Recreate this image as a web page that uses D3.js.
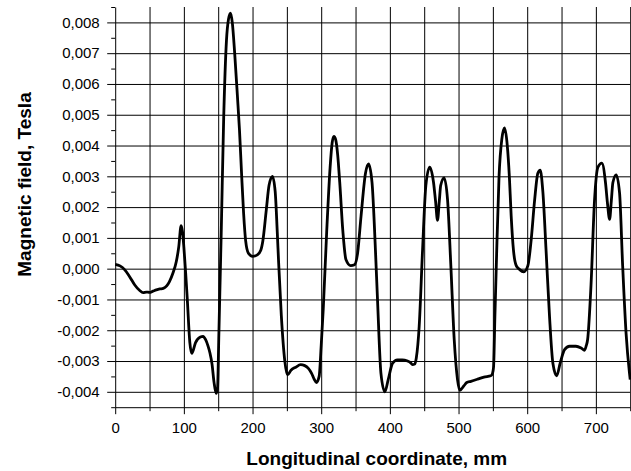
<!DOCTYPE html>
<html>
<head>
<meta charset="utf-8">
<script src="https://cdn.jsdelivr.net/npm/d3@7"></script>
<style>
  body { margin: 0; background: #fff; }
  svg { display: block; font-family: Arial, "Liberation Sans", sans-serif; }
</style>
</head>
<body>
<div id="field_chart"></div>
<script>
/* Magnetic field along the sample */

// longitudinal coordinate, mm
const positions = [
  0, 7, 14, 21, 28.5, 35.7, 40.6, 45.4, 50, 55, 60, 65, 70, 75, 79, 84, 89, 92.5, 96, 98, 100,
  102.5, 105, 108.7, 111.5, 117, 124, 128, 131.5, 135, 138, 141, 144, 147, 149, 151, 154.4,
  158, 162, 165, 168, 170.5, 174, 178, 181, 184, 187, 190, 194, 200, 207, 212, 215, 220,
  224, 229, 233, 236, 238, 242, 247, 251, 256, 263, 270, 276, 281, 286, 290, 293, 297, 300,
  303, 308, 313, 316, 318.5, 321, 324, 327, 331.6, 336, 343, 348.5, 353, 358, 364.5, 369,
  374, 379, 382, 387, 392.7, 397.6, 404, 411, 418, 425.7, 430, 433, 436, 438.5, 442.7,
  447.6, 452.4, 458, 463.6, 466.5, 469.4, 472, 474, 479, 484, 488.8, 493.7, 498.5, 502,
  508, 512, 518, 527.7, 537, 547, 549.5, 551, 553, 555, 559, 563, 567, 571, 574, 576.7,
  580, 584, 589, 595, 601, 605.8, 610.7, 615.5, 619, 622.8, 627.7, 632.5, 637.4, 643, 648,
  654.4, 661.7, 671, 678.6, 683.5, 686, 688, 693, 698, 703, 708.7, 714, 717, 720, 722.5,
  724.8, 729.6, 734.5, 739, 744, 749, 750
];

// magnetic field, Tesla
const field = [
  0.00014, 0.00009, -0.00004, -0.00026, -0.00053, -0.00071, -0.00078, -0.00076, -0.00077,
  -0.00073, -0.00069, -0.00066, -0.00064, -0.00056, -0.00042, -0.00015, 0.00023, 0.0007,
  0.0014, 0.0012, 0.0007, -0.0001, -0.001, -0.0024, -0.00275, -0.0024, -0.00222, -0.0022,
  -0.0023, -0.0025, -0.00274, -0.0031, -0.0037, -0.00405, -0.0039, -0.0021, 0.00116, 0.0049,
  0.0074, 0.0081, 0.0083, 0.008, 0.007, 0.0056, 0.0045, 0.0031, 0.0018, 0.0009, 0.0005,
  0.0004, 0.00045, 0.0006, 0.0009, 0.0019, 0.0027, 0.003, 0.0025, 0.0012, 0.0002, -0.00155,
  -0.003, -0.00345, -0.0033, -0.0032, -0.00312, -0.00315, -0.00323, -0.0034, -0.0036,
  -0.0037, -0.0035, -0.0025, -0.0013, 0.0012, 0.0033, 0.0041, 0.0043, 0.0042, 0.0037,
  0.0028, 0.0012, 0.0003, 0.0001, 0.00013, 0.0005, 0.0017, 0.0031, 0.0034, 0.0028, 0.0006,
  -0.001, -0.0034, -0.004, -0.0036, -0.00307, -0.00296, -0.00296, -0.003, -0.00305,
  -0.00312, -0.0031, -0.0029, -0.00187, 0.0006, 0.0027, 0.0033, 0.0028, 0.0022, 0.00157,
  0.0022, 0.0027, 0.00295, 0.00224, 0.0001, -0.0023, -0.0036, -0.00395, -0.0038, -0.0037,
  -0.00366, -0.00359, -0.00352, -0.00348, -0.0034, -0.0032, -0.0015, 0.0001, 0.003, 0.0042,
  0.00457, 0.004, 0.003, 0.0017, 0.0006, 0.0001, -0.00003, -0.0001, 0.0001, 0.00094, 0.0022,
  0.0031, 0.0032, 0.0025, 0.0005, -0.00155, -0.00307, -0.00348, -0.00307, -0.00263,
  -0.00252, -0.00252, -0.00258, -0.00265, -0.0025, -0.0023, -0.0005, 0.0022, 0.0033,
  0.00343, 0.0028, 0.0021, 0.0016, 0.0022, 0.0028, 0.00305, 0.00246, 0.0001, -0.0021,
  -0.0034, -0.0036
];

const xTicks = [0, 100, 200, 300, 400, 500, 600, 700];
const xMinor = [50, 150, 250, 350, 450, 550, 650, 750];
const yTicks = [-0.004, -0.003, -0.002, -0.001, 0, 0.001, 0.002, 0.003, 0.004, 0.005, 0.006, 0.007, 0.008];
const yMinor = [-0.0045, -0.0035, -0.0025, -0.0015, -0.0005, 0.0005, 0.0015, 0.0025, 0.0035, 0.0045, 0.0055, 0.0065, 0.0075, 0.0085];

const data = positions.map((p, i) => ({ pos: p, b: field[i] }));

const height = 471,
  width = 631,
  margin = ({ top: 7, right: 0.8, bottom: 63.8, left: 115.2 });

const svg = d3.select("#field_chart")
  .append("svg")
  .attr("width", width)
  .attr("height", height)
  .attr("viewBox", [0, 0, width, height]);

let x = d3.scaleLinear()
  .domain([0, 750])
  .range([margin.left, width - margin.right]);

let y = d3.scaleLinear()
  .domain([-0.0045, 0.0085])
  .range([height - margin.bottom, margin.top]);

// comma decimal, plain hyphen for minus
const fmt = d3.formatLocale({ decimal: ",", thousands: ".", grouping: [3], currency: ["", ""], minus: "-" }).format(".3f");

// grid
svg.append("g")
  .attr("transform", `translate(0,${height - margin.bottom})`)
  .call(d3.axisBottom(x)
    .tickValues(xTicks.concat(xMinor).filter(d => d > 0))
    .tickSize(-(height - margin.top - margin.bottom))
    .tickFormat(""))
  .call(g => g.select(".domain").remove())
  .selectAll("line").attr("stroke", "#000");

svg.append("g")
  .attr("transform", `translate(${margin.left},0)`)
  .call(d3.axisLeft(y)
    .tickValues(yTicks)
    .tickSize(-(width - margin.left - margin.right))
    .tickFormat(""))
  .call(g => g.select(".domain").remove())
  .selectAll("line").attr("stroke", "#000");

// the curve
let line = d3.line()
  .x(d => x(d.pos))
  .y(d => y(d.b))
  .curve(d3.curveMonotoneX);

svg.append("path")
  .datum(data)
  .attr("d", line)
  .attr("fill", "none")
  .attr("stroke", "#000")
  .attr("stroke-width", 2.8)
  .attr("stroke-linejoin", "round");

// axes
svg.append("g")
  .attr("transform", `translate(0,${height - margin.bottom})`)
  .call(d3.axisBottom(x).tickValues(xMinor).tickSize(4).tickSizeOuter(0).tickFormat(""))
  .call(g => g.select(".domain").remove());

svg.append("g")
  .attr("transform", `translate(0,${height - margin.bottom})`)
  .call(d3.axisBottom(x)
    .tickValues(xTicks)
    .tickSize(7)
    .tickSizeOuter(0)
    .tickPadding(8))
  .attr("font-size", 15)
  .attr("font-family", null);

svg.append("g")
  .attr("transform", `translate(${margin.left},0)`)
  .call(d3.axisLeft(y).tickValues(yMinor).tickSize(4).tickSizeOuter(0).tickFormat(""))
  .call(g => g.select(".domain").remove());

svg.append("g")
  .attr("transform", `translate(${margin.left},0)`)
  .call(d3.axisLeft(y)
    .tickValues(yTicks)
    .tickSize(8)
    .tickSizeOuter(0)
    .tickPadding(7.5)
    .tickFormat(fmt))
  .attr("font-size", 15)
  .attr("font-family", null);

svg.append("text")
  .attr("class", "x-label")
  .attr("text-anchor", "middle")
  .attr("x", 376.7)
  .attr("y", 465)
  .attr("font-size", 19)
  .attr("font-weight", "bold")
  .text("Longitudinal coordinate, mm");

svg.append("text")
  .attr("class", "y-label")
  .attr("text-anchor", "middle")
  .attr("x", -184.5)
  .attr("y", 31)
  .attr("transform", "rotate(-90)")
  .attr("font-size", 19)
  .attr("font-weight", "bold")
  .text("Magnetic field, Tesla");
</script>
</body>
</html>
